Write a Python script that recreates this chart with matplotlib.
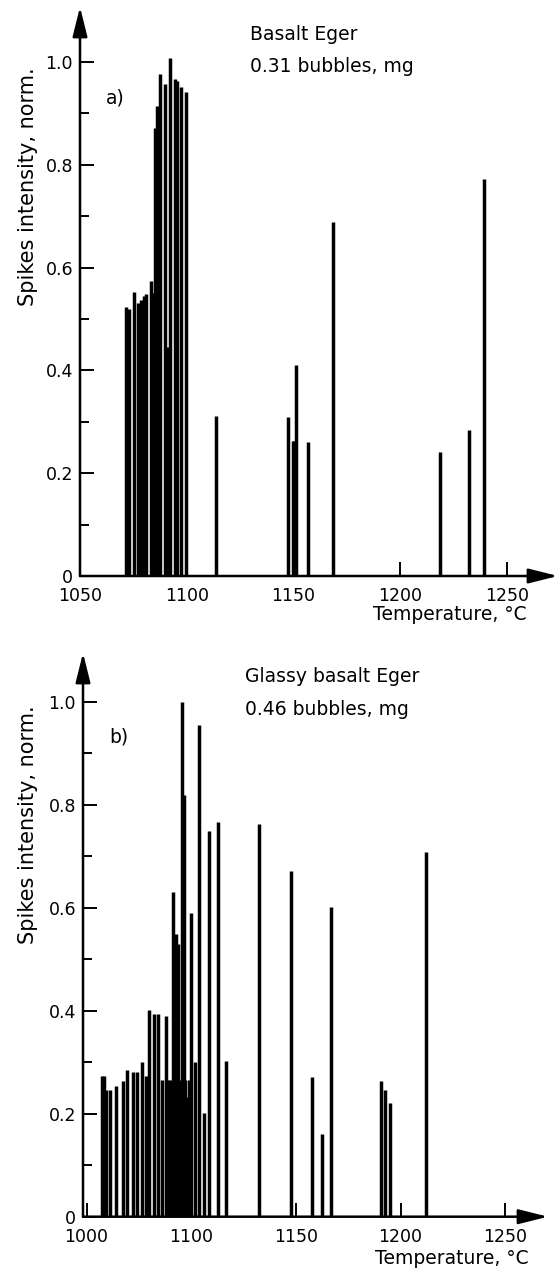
import numpy as np
import matplotlib.pyplot as plt
from matplotlib.ticker import FixedLocator

# panel a: Basalt Eger
temp_a = [1071.4, 1073.0, 1075.3, 1077.4, 1078.6, 1079.9, 1080.9, 1083.1, 1084.4,
          1085.1, 1085.9, 1087.7, 1089.8, 1090.6, 1092.2, 1094.5, 1095.6, 1097.3,
          1099.5, 1113.6, 1147.7, 1149.7, 1150.5, 1151.1, 1157.0, 1168.4, 1218.9,
          1232.3, 1239.3]
int_a = [0.523, 0.519, 0.552, 0.532, 0.537, 0.545, 0.549, 0.573, 0.550,
         0.871, 0.914, 0.977, 0.957, 0.446, 1.008, 0.966, 0.964, 0.952,
         0.942, 0.311, 0.309, 0.263, 0.263, 0.410, 0.261, 0.689, 0.242,
         0.285, 0.772]

# panel b: Glassy basalt Eger
temp_b = [1014.5, 1016.5, 1019.0, 1022.3, 1028.0, 1035.0, 1038.8, 1043.9, 1048.3,
          1052.6, 1056.4, 1059.9, 1064.4, 1067.9, 1071.7, 1075.8, 1078.0, 1080.0,
          1082.7, 1084.0, 1085.3, 1087.0, 1088.5, 1090.8, 1093.0, 1094.5, 1096.1,
          1098.0, 1099.7, 1101.8, 1103.8, 1106.0, 1108.6, 1112.6, 1116.4, 1132.2,
          1147.8, 1157.8, 1162.4, 1166.7, 1190.5, 1192.7, 1194.8, 1212.1]
int_b = [0.273, 0.273, 0.247, 0.247, 0.254, 0.264, 0.285, 0.281, 0.281,
         0.301, 0.274, 0.402, 0.394, 0.394, 0.265, 0.390, 0.265, 0.265,
         0.631, 0.265, 0.550, 0.530, 0.265, 1.000, 0.820, 0.265, 0.233,
         0.265, 0.589, 0.300, 0.955, 0.202, 0.749, 0.767, 0.303, 0.762,
         0.672, 0.272, 0.160, 0.602, 0.264, 0.246, 0.221, 0.708]

yticks = [0, 0.2, 0.4, 0.6, 0.8, 1.0]
ylabels = ["0", "0.2", "0.4", "0.6", "0.8", "1.0"]
yminor = [0.1, 0.3, 0.5, 0.7, 0.9]
xticks_a = [1050, 1100, 1150, 1200, 1250]
xticks_b = [1000, 1100, 1150, 1200, 1250]


# x axis of panel b is compressed below 1100 (half scale)
def squeeze(t):
    t = np.asarray(t, dtype=float)
    return np.where(t < 1100, 1100 - (1100 - t) * 0.5, t)


def unsqueeze(f):
    f = np.asarray(f, dtype=float)
    return np.where(f < 1100, 1100 - (1100 - f) * 2.0, f)


def style_axes(ax):
    for s in ax.spines.values():
        s.set_visible(False)
    arrow = dict(arrowstyle="-|>,head_length=1.0,head_width=0.25", lw=1.8,
                 color="k", shrinkA=0, shrinkB=0, mutation_scale=18)
    ax.annotate("", xy=(0, 1), xytext=(0, 0), xycoords="axes fraction",
                arrowprops=arrow)
    ax.annotate("", xy=(1, 0), xytext=(0, 0), xycoords="axes fraction",
                arrowprops=arrow)
    ax.set_yticks(yticks, ylabels)
    ax.yaxis.set_minor_locator(FixedLocator(yminor))
    ax.tick_params(which="major", direction="in", length=10, width=1.4,
                   labelsize=12.5, pad=5, top=False, right=False)
    ax.tick_params(which="major", axis="x", pad=8)
    ax.tick_params(which="minor", axis="y", direction="in", length=6.5, width=1.4)
    ax.tick_params(which="minor", axis="x", length=0)
    ax.set_ylabel("Spikes intensity, norm.", fontsize=15)
    ax.set_xlabel("Temperature, °C", fontsize=13.5)


fig = plt.figure(figsize=(5.6, 12.77), dpi=100)
H = 1277.0

# panel a
ax1 = fig.add_axes([80 / 560, (H - 576) / H, 478 / 560, 569 / H])
ax1.vlines(temp_a, 0, int_a, color="k", lw=2.5)
ax1.set_xlim(1050, 1274)
ax1.set_ylim(0, 1.107)
ax1.set_xticks(xticks_a)
style_axes(ax1)
ax1.yaxis.set_label_coords(-0.088, 0.685)
ax1.xaxis.set_label_coords(0.774, -0.051)
ax1.text(1062, 0.93, "a)", fontsize=13.5, va="center")
ax1.text(1129.7, 1.053, "Basalt Eger", fontsize=13.5, va="center")
ax1.text(1129.7, 0.992, "0.31 bubbles, mg", fontsize=13.5, va="center")

# panel b
ax2 = fig.add_axes([83 / 560, (H - 1216.7) / H, 465 / 560, 563.7 / H])
ax2.set_xscale("function", functions=(squeeze, unsqueeze))
ax2.vlines(temp_b, 0, int_b, color="k", lw=2.5)
ax2.set_xlim(996.6, 1270.4)
ax2.set_ylim(0, 1.095)
ax2.set_xticks(xticks_b, [str(t) for t in xticks_b])
style_axes(ax2)
ax2.yaxis.set_label_coords(-0.097, 0.695)
ax2.xaxis.set_label_coords(0.794, -0.057)
ax2.text(1022, 0.932, "b)", fontsize=13.5, va="center")
ax2.text(1125.6, 1.049, "Glassy basalt Eger", fontsize=13.5, va="center")
ax2.text(1125.6, 0.986, "0.46 bubbles, mg", fontsize=13.5, va="center")

fig.savefig("out.png", dpi=100)
